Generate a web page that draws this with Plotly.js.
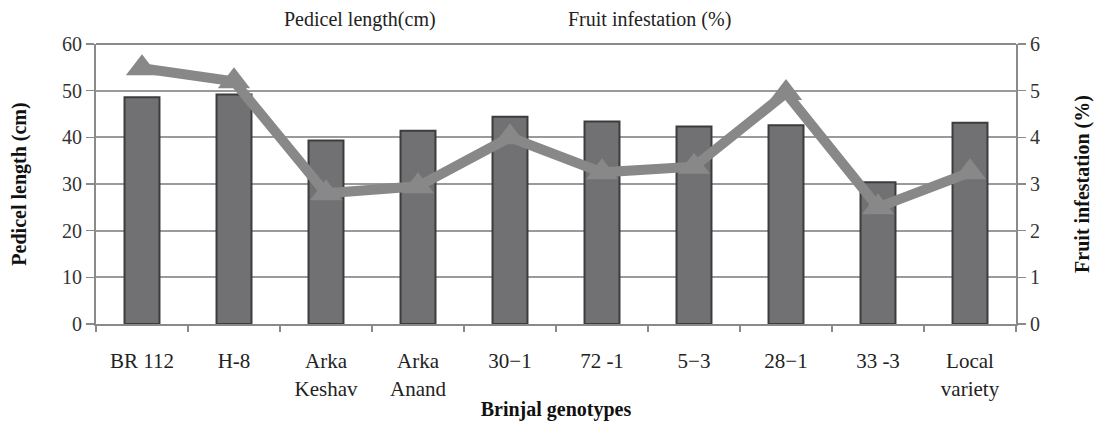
<!DOCTYPE html>
<html>
<head>
<meta charset="utf-8">
<script src="https://cdn.plot.ly/plotly-3.0.1.min.js"></script>
<style>html,body{margin:0;padding:0;background:#fff;}#chart{width:1099px;height:425px;}</style>
</head>
<body>
<div id="chart"></div>
<script>
const categories = ["BR 112", "H-8", "Arka<br>Keshav", "Arka<br>Anand", "30\u22121", "72 -1", "5\u22123", "28\u22121", "33 -3", "Local<br>variety"];
const pedicelLength = [48.6, 49.2, 39.3, 41.4, 44.4, 43.4, 42.3, 42.6, 30.4, 43.1];
const fruitInfestation = [5.48, 5.2, 2.8, 2.95, 4.0, 3.25, 3.37, 4.95, 2.5, 3.25];
const legendNames = ["Pedicel length(cm)", "Fruit infestation (%)"];

const font = "'Liberation Serif', 'Times New Roman', serif";

const traces = [
  {
    type: "bar", x: categories, y: pedicelLength, name: legendNames[0],
    width: 0.38,
    marker: {color: "#717173", line: {color: "#3c3c3e", width: 2}},
    yaxis: "y", hoverinfo: "x+y"
  },
  {
    type: "scatter", mode: "lines+markers", x: categories, y: fruitInfestation, name: legendNames[1],
    line: {color: "#888888", width: 10},
    marker: {symbol: "triangle-up", size: 28, color: "#888888"},
    yaxis: "y2", cliponaxis: false
  }
];

const layout = {
  width: 1099, height: 425,
  margin: {l: 96, r: 83, t: 44, b: 101},
  paper_bgcolor: "#fff", plot_bgcolor: "#fff",
  showlegend: false,
  font: {family: font, size: 20, color: "#222"},
  xaxis: {
    type: "category", range: [-0.5, 9.5],
    showline: true, linecolor: "#8a8a8a", linewidth: 2,
    ticks: "outside", tickson: "boundaries", ticklen: 6, tickcolor: "#8a8a8a", tickwidth: 1.5,
    showgrid: false, zeroline: false,
    ticklabelstandoff: 17,
    tickfont: {family: font, size: 21, color: "#222"},
    title: {text: "<b>Brinjal genotypes</b>", font: {family: font, size: 20, color: "#111"}, standoff: 2}
  },
  yaxis: {
    range: [0, 60], dtick: 10,
    showline: true, linecolor: "#8a8a8a", linewidth: 2,
    ticks: "outside", ticklen: 8, tickcolor: "#8a8a8a", tickwidth: 1.5,
    showgrid: true, gridcolor: "#9a9a9a", gridwidth: 2, zeroline: false,
    tickfont: {family: font, size: 20, color: "#333"},
    title: {text: "<b>Pedicel length (cm)</b>", font: {family: font, size: 20, color: "#111"}, standoff: 30}
  },
  yaxis2: {
    range: [0, 6], dtick: 1, overlaying: "y", side: "right",
    showline: true, linecolor: "#8a8a8a", linewidth: 2,
    ticks: "outside", ticklen: 8, tickcolor: "#8a8a8a", tickwidth: 1.5,
    showgrid: false, zeroline: false,
    tickfont: {family: font, size: 20, color: "#333"},
    title: {text: "<b>Fruit infestation (%)</b>", font: {family: font, size: 20, color: "#111"}, standoff: 36}
  },
  shapes: [
    {type: "line", xref: "paper", yref: "paper", x0: 0, x1: 1, y0: 1, y1: 1, line: {color: "#8a8a8a", width: 2}}
  ],
  annotations: [
    {text: legendNames[0], xref: "paper", yref: "paper", x: 0.287, y: 1.0, yshift: 38, xanchor: "center", showarrow: false, font: {family: font, size: 20, color: "#222"}},
    {text: legendNames[1], xref: "paper", yref: "paper", x: 0.602, y: 1.0, yshift: 38, xanchor: "center", showarrow: false, font: {family: font, size: 20, color: "#222"}}
  ]
};

Plotly.newPlot("chart", traces, layout, {displayModeBar: false, staticPlot: true});
</script>
</body>
</html>
